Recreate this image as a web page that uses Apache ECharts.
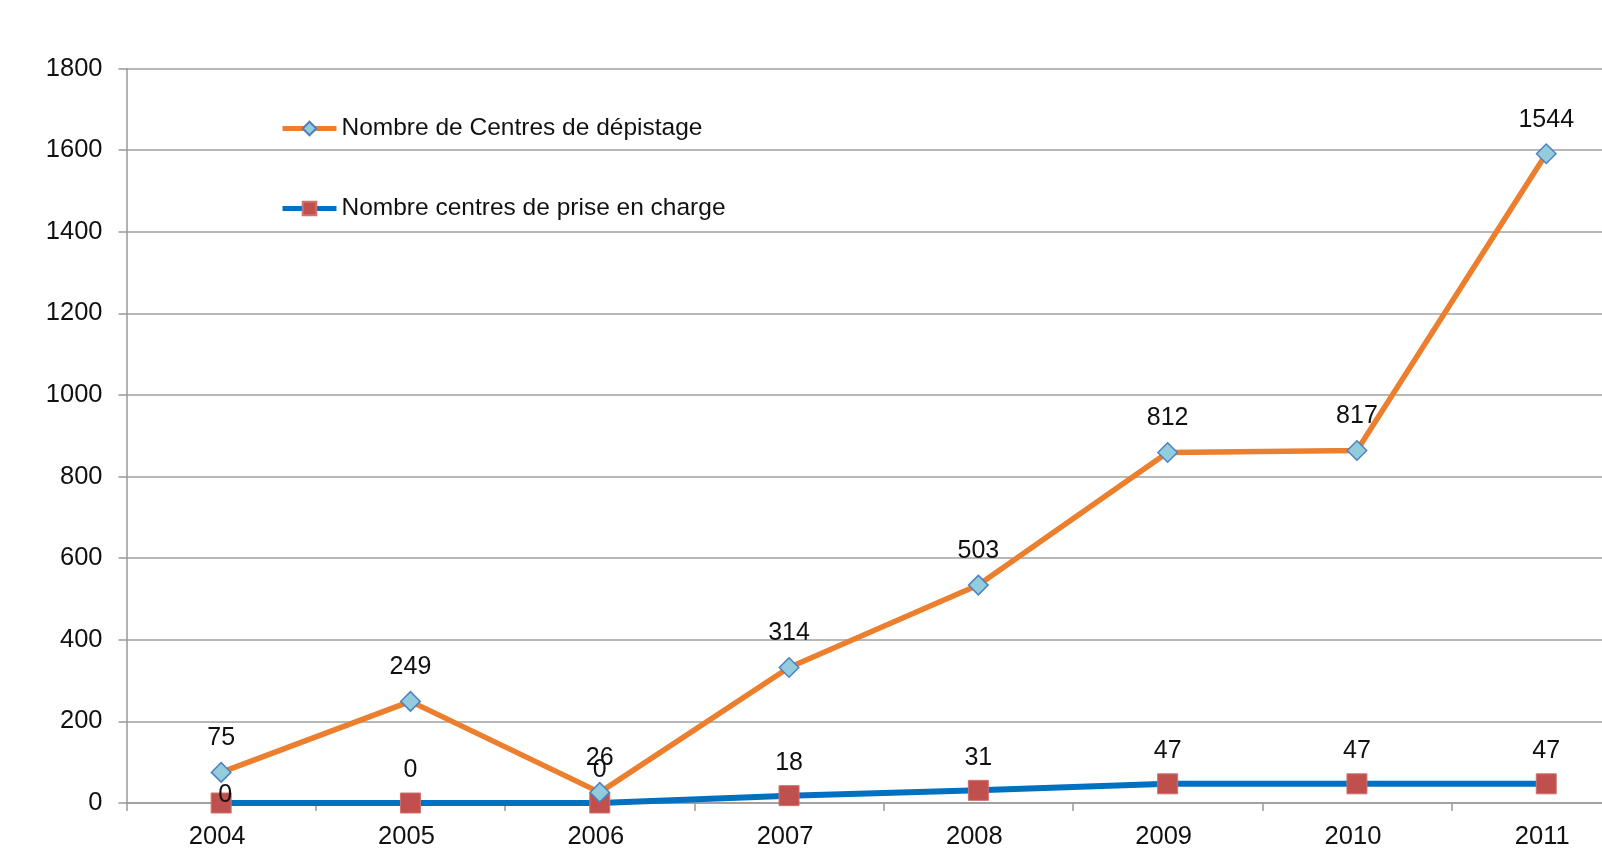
<!DOCTYPE html>
<html>
<head>
<meta charset="utf-8">
<script src="https://cdn.jsdelivr.net/npm/echarts@6/dist/echarts.min.js"></script>
<style>
html,body{margin:0;padding:0;background:#fff;}
#chart{width:1602px;height:861px;}
</style>
</head>
<body>
<div id="chart"></div>
<script>
var categories = ['2004','2005','2006','2007','2008','2009','2010','2011'];
var depistage = [75, 249, 26, 314, 503, 812, 817, 1544];
var priseEnCharge = [0, 0, 0, 18, 31, 47, 47, 47];
var yTicks = [0, 200, 400, 600, 800, 1000, 1200, 1400, 1600, 1800];

var FONT = '"Liberation Sans", Arial, sans-serif';
var chart = echarts.init(document.getElementById('chart'));

var pecData = priseEnCharge.map(function (v, i) {
  if (i === 0) {
    return { value: v, label: { distance: -15, offset: [4, 0] } };
  }
  return v;
});

chart.setOption({
  animation: false,
  backgroundColor: '#fff',
  grid: {
    left: 126.5, top: 68.5, width: 1514.4, height: 734.5,
    containLabel: false, outerBoundsMode: 'none'
  },
  legend: {
    orient: 'vertical',
    left: 275,
    top: 111,
    itemWidth: 54,
    itemHeight: 17,
    itemGap: 55,
    textStyle: { fontFamily: FONT, fontSize: 24.5, color: '#111' },
    data: [
      { name: 'Nombre de Centres de dépistage', lineStyle: { width: 5 } },
      { name: 'Nombre centres de prise en charge', lineStyle: { width: 5 } }
    ]
  },
  xAxis: {
    type: 'category',
    data: categories,
    boundaryGap: true,
    axisLine: { lineStyle: { color: '#999', width: 1.5 } },
    axisTick: { show: true, length: 8, lineStyle: { color: '#999', width: 1.5 } },
    axisLabel: {
      margin: 21, fontFamily: FONT, fontSize: 25.5, color: '#111',
      padding: [0, 8, 0, 0]
    }
  },
  yAxis: {
    type: 'value',
    min: yTicks[0],
    max: yTicks[yTicks.length - 1],
    interval: 200,
    axisLine: { show: true, lineStyle: { color: '#999', width: 1.5 } },
    axisTick: { show: true, length: 8, lineStyle: { color: '#999', width: 1.5 } },
    splitLine: { lineStyle: { color: '#a0a0a0', width: 1.5 } },
    axisLabel: {
      margin: 24, fontFamily: FONT, fontSize: 25.5, color: '#111',
      formatter: function (v) { return String(v); }
    }
  },
  series: [
    {
      name: 'Nombre centres de prise en charge',
      type: 'line',
      stack: 'total',
      data: pecData,
      symbol: 'rect',
      symbolSize: 20,
      lineStyle: { color: '#0070C0', width: 6 },
      itemStyle: { color: '#C0504D', borderColor: '#D0706D', borderWidth: 1 },
      label: {
        show: true, position: 'top', distance: 9.5,
        fontFamily: FONT, fontSize: 25, color: '#111'
      },
      z: 2
    },
    {
      name: 'Nombre de Centres de dépistage',
      type: 'line',
      stack: 'total',
      data: depistage,
      symbol: 'diamond',
      symbolSize: 19.5,
      lineStyle: { color: '#EC7F2E', width: 5.5 },
      itemStyle: { color: '#93CDDD', borderColor: '#4F81BD', borderWidth: 1.5 },
      label: {
        show: true, position: 'top', distance: 11,
        fontFamily: FONT, fontSize: 25, color: '#111'
      },
      z: 3
    }
  ]
});
</script>
</body>
</html>
